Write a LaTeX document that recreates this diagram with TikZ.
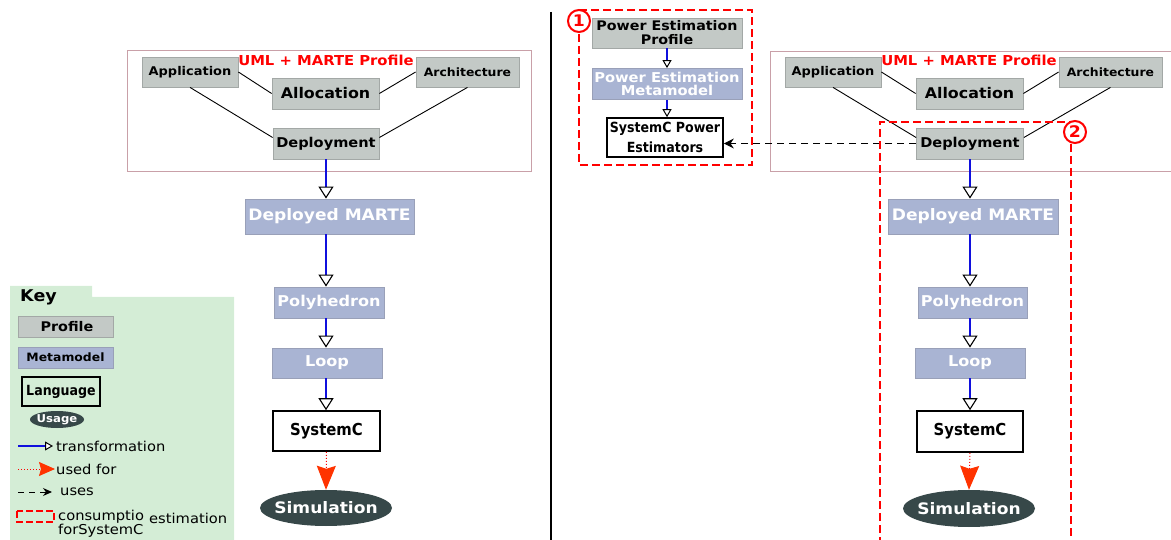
\documentclass[tikz,border=0pt]{standalone}
\usepackage{fontspec}
\setmainfont{DejaVu Sans}[FakeStretch=1.08]
\newfontfamily\condf{DejaVu Sans Condensed}
\usetikzlibrary{arrows.meta,shapes.geometric,calc}
\definecolor{profgray}{HTML}{C3C9C6}
\definecolor{profborder}{HTML}{A3A8A6}
\definecolor{metablue}{HTML}{A9B4D3}
\definecolor{metaborder}{HTML}{99A0B8}
\definecolor{simfill}{HTML}{374849}
\definecolor{pinkline}{HTML}{C9A0A8}
\definecolor{transblue}{HTML}{1010DD}
\definecolor{arrowred}{HTML}{FF3300}
\definecolor{keygreen}{HTML}{D4EDD6}
\newcommand\fsz[2]{\fontsize{#1}{#2}\selectfont}
\tikzset{
  prof/.style={draw=profborder, fill=profgray, line width=0.8pt, inner sep=0pt, font=\bfseries\fsz{13}{14}},
  meta/.style={draw=metaborder, fill=metablue, line width=0.8pt, inner sep=0pt, text=white, font=\bfseries\fsz{14.9}{16}},
  lang/.style={draw=black, fill=white, line width=1.6pt, inner sep=0pt, font=\condf\bfseries\fsz{16.5}{18}},
  usage/.style={inner sep=0pt, text=white, font=\bfseries\fsz{15.8}{16}},
  usagefill/.style={fill=simfill},
  trans/.style={draw=transblue, line width=1.5pt, -{Triangle[length=12pt, width=15pt, line width=1.1pt, color=black, fill=white]}},
  transsmall/.style={draw=transblue, line width=1.1pt, -{Triangle[length=8pt, width=9pt, line width=1pt, color=black, fill=white]}},
  usedfor/.style={draw=red, dotted, line width=1pt, -{Stealth[length=24pt, width=19pt, inset=3pt, color=arrowred]}},
  uses/.style={draw=black, dash pattern=on 7pt off 5pt, line width=1pt, -{Stealth[length=10pt, width=10pt]}},
  conn/.style={draw=black, line width=0.9pt},
  container/.style={draw=pinkline, line width=1pt},
  redbox/.style={draw=red, line width=2pt, dash pattern=on 8pt off 4pt},
  numcircle/.style={circle, draw=red, line width=2pt, fill=white, minimum size=22pt, inner sep=0pt, text=red, font=\bfseries\fsz{16}{16}},
  umltext/.style={text=red, font=\bfseries\fsz{13.7}{14}, inner sep=0pt},
  keytext/.style={anchor=west, inner sep=0pt, font=\fsz{13.6}{14}}
}
\begin{document}
\begin{tikzpicture}[x=1pt,y=-1pt]
\useasboundingbox (0,0) rectangle (1171,540);

% ---------------- Key ----------------
\fill[keygreen] (10,286) -- (92,286) -- (92,297) -- (234,297) -- (234,540) -- (10,540) -- cycle;
\node[inner sep=0pt, font=\bfseries\fsz{16.2}{17}] (keylbl) at (38.5,297) {Key};
\node[prof, minimum width=95pt, minimum height=21pt, font=\bfseries\fsz{13.3}{14}] (kprof) at (65.5,326.5) {\hspace*{3pt}Profile};
\node[meta, minimum width=95pt, minimum height=21pt, text=black, font=\bfseries\fsz{11.5}{12}] (kmeta) at (65.5,357.5) {Metamodel};
\node[lang, fill=none, minimum width=78pt, minimum height=29pt, font=\condf\bfseries\fsz{14}{15}] (klang) at (61,391.5) {Language};
\fill[usagefill] (57,419.5) ellipse [x radius=27, y radius=8.5];
\node[usage, minimum width=54pt, minimum height=17pt, font=\bfseries\fsz{10.8}{11}] (kusage) at (57,419.5) {Usage};
\coordinate (kt1) at (18,446); \coordinate (kt2) at (53,446);
\draw[transsmall] (kt1) -- (kt2);
\node[keytext] (kttext) at (56,446) {transformation};
\coordinate (ku1) at (18,469); \coordinate (ku2) at (55,469);
\draw[usedfor, -{Stealth[length=16pt, width=14pt, inset=2pt, color=arrowred]}] (ku1) -- (ku2);
\node[keytext] (kutext) at (56,469) {used for};
\coordinate (ks1) at (18,492); \coordinate (ks2) at (52,492);
\draw[uses, dash pattern=on 6pt off 5pt, -{Stealth[length=9pt, width=8pt]}] (ks1) -- (ks2);
\node[keytext] (kstext) at (60,492) {uses};
\draw[redbox, dash pattern=on 7pt off 3pt] (17,511) rectangle (54,522);
\node[keytext, align=left, font=\fsz{13.6}{12}] (kc1) at (58,524) {consumptio\\forSystemC};
\node[keytext] (kc2) at (149,518) {estimation};

% ---------------- Left diagram ----------------
\draw[container] (127,51) rectangle (531,172);
\node[umltext] (uml1) at (326,60) {UML + MARTE Profile};
\node[prof, minimum width=96pt, minimum height=30pt, font=\bfseries\fsz{12}{13}] (app1) at (190,72) {Application};
\node[prof, minimum width=107pt, minimum height=31pt, font=\bfseries\fsz{14.7}{16}] (alloc1) at (325.5,93.5) {Allocation};
\node[prof, minimum width=103pt, minimum height=30pt, font=\bfseries\fsz{11.5}{13}] (arch1) at (467.5,72) {Architecture};
\node[prof, minimum width=106pt, minimum height=31pt, font=\bfseries\fsz{13.5}{15}] (dep1) at (326,143.5) {Deployment};
\draw[conn] (app1.east) -- (alloc1.west);
\draw[conn] (arch1.west) -- (alloc1.east);
\draw[conn] (app1.south) -- ($(dep1.west)+(0,-6)$);
\draw[conn] (arch1.south) -- ($(dep1.east)+(0,-6)$);
\node[meta, minimum width=169pt, minimum height=35pt, font=\bfseries\fsz{15.8}{16}] (dm1) at (329.5,216.5) {Deployed MARTE};
\node[meta, minimum width=110pt, minimum height=31pt] (poly1) at (329,302.5) {Polyhedron};
\node[meta, minimum width=110pt, minimum height=30pt] (loop1) at (327,363) {Loop};
\node[lang, minimum width=107pt, minimum height=40pt] (sc1) at (326.5,431) {SystemC};
\fill[usagefill] (326,508) ellipse [x radius=66, y radius=18];
\node[usage, minimum width=132pt, minimum height=36pt] (sim1) at (326,508) {Simulation};
\draw[trans] (dep1.south) -- (dep1.south |- dm1.north);
\draw[trans] (dep1.south |- dm1.south) -- (dep1.south |- poly1.north);
\draw[trans] (dep1.south |- poly1.south) -- (dep1.south |- loop1.north);
\draw[trans] (dep1.south |- loop1.south) -- (dep1.south |- sc1.north);
\draw[usedfor] (sc1.south) -- (sim1.north);

% ---------------- Divider ----------------
\coordinate (divtop) at (551,12); \coordinate (divbot) at (551,540);
\draw[line width=2.5pt] (divtop) -- (divbot);

% ---------------- Right diagram ----------------
\draw[container] (1175,52) -- (770,52) -- (770,172) -- (1175,172);
\node[umltext] (uml2) at (969,60) {UML + MARTE Profile};
\node[prof, minimum width=96pt, minimum height=30pt, font=\bfseries\fsz{12}{13}] (app2) at (833,72) {Application};
\node[prof, minimum width=107pt, minimum height=31pt, font=\bfseries\fsz{14.7}{16}] (alloc2) at (969.5,93.5) {Allocation};
\node[prof, minimum width=103pt, minimum height=30pt, font=\bfseries\fsz{11.5}{13}] (arch2) at (1110.5,72) {Architecture};
\node[prof, minimum width=107pt, minimum height=31pt, font=\bfseries\fsz{13.5}{15}] (dep2) at (970,143.5) {Deployment};
\draw[conn] (app2.east) -- (alloc2.west);
\draw[conn] (arch2.west) -- (alloc2.east);
\draw[conn] (app2.south) -- ($(dep2.west)+(0,-6)$);
\draw[conn] (arch2.south) -- ($(dep2.east)+(0,-6)$);
\node[meta, minimum width=170pt, minimum height=35pt, font=\bfseries\fsz{15.8}{16}] (dm2) at (973,216.5) {Deployed MARTE};
\node[meta, minimum width=109pt, minimum height=31pt] (poly2) at (972.5,302.5) {Polyhedron};
\node[meta, minimum width=110pt, minimum height=30pt] (loop2) at (970,363) {Loop};
\node[lang, minimum width=106pt, minimum height=41pt] (sc2) at (970,431.5) {SystemC};
\fill[usagefill] (969,508.5) ellipse [x radius=66, y radius=18.5];
\node[usage, minimum width=132pt, minimum height=37pt] (sim2) at (969,508.5) {Simulation};
\draw[trans] (dep2.south) -- (dep2.south |- dm2.north);
\draw[trans] (dep2.south |- dm2.south) -- (dep2.south |- poly2.north);
\draw[trans] (dep2.south |- poly2.south) -- (dep2.south |- loop2.north);
\draw[trans] (dep2.south |- loop2.south) -- (dep2.south |- sc2.north);
\draw[usedfor] (sc2.south) -- (sim2.north);

% ---------------- Power estimation (1) ----------------
\node[prof, minimum width=150pt, minimum height=30pt, align=center, font=\bfseries\fsz{13.2}{14}] (pep) at (667,33) {Power Estimation\\Profile};
\node[meta, minimum width=150pt, minimum height=31pt, align=center, font=\bfseries\fsz{13.6}{12.5}] (pem) at (667,84) {Power Estimation\\Metamodel};
\node[lang, minimum width=116pt, minimum height=39pt, align=center, font=\condf\bfseries\fsz{14}{20}] (scpe) at (665,137.5) {SystemC Power\\Estimators};
\draw[transsmall] (pep.south) -- (pep.south |- pem.north);
\draw[transsmall] (pem.south) -- (pem.south |- scpe.north);
\draw[uses] (dep2.west) -- (scpe.east |- dep2.west);

% red boxes and numbers
\draw[redbox] (579,10) rectangle (752,165);
\node[numcircle] (n1) at (579,21) {1};
\draw[redbox] (880,545) -- (880,122) -- (1071,122) -- (1071,545);
\node[numcircle] (n2) at (1075,132) {2};
\end{tikzpicture}
\end{document}
